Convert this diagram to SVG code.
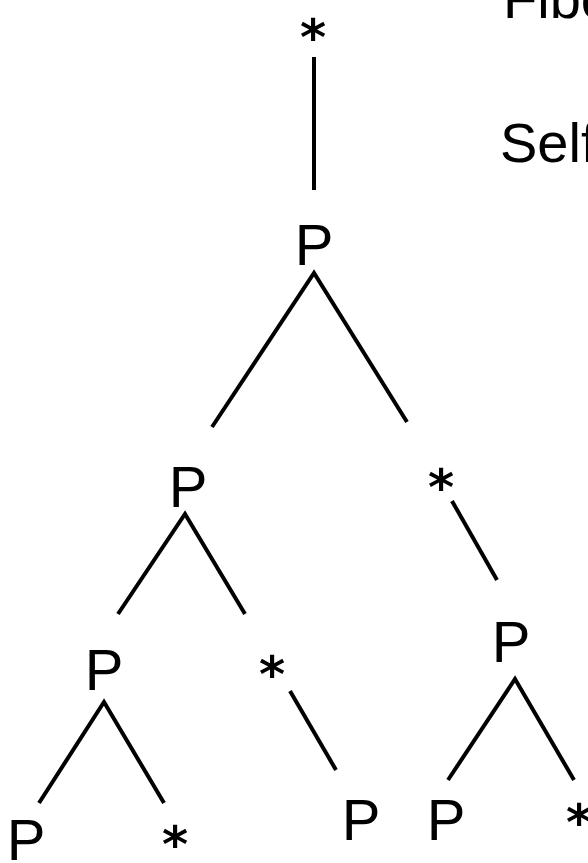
<svg xmlns="http://www.w3.org/2000/svg" width="588" height="863" viewBox="0 0 588 863">
  <style>
    .lbl { font-family: "Liberation Sans", Arial, sans-serif; font-size: 58px; fill: #000; text-anchor: middle; }
    .star { font-family: "DejaVu Sans", sans-serif; font-size: 50px; font-weight: bold; fill: #000; text-anchor: middle; }
    .side { font-family: "Liberation Sans", Arial, sans-serif; font-size: 56px; fill: #000; }
    .edge { fill: none; stroke: #000; stroke-width: 4; stroke-linejoin: miter; stroke-miterlimit: 10; }
  </style>
  <rect width="588" height="863" fill="#fff"/>

  <!-- side heading, running off the right edge -->
  <g id="heading">
    <text class="side" x="503" y="18">Fibo</text>
    <text class="side" x="500" y="162">Self</text>
  </g>

  <!-- tree edges -->
  <g id="connectors">
    <line class="edge" x1="314" y1="57" x2="314" y2="190"/>
    <polyline class="edge" points="212,427 314,273 407,422"/>
    <polyline class="edge" points="118,614 185,514 245,614"/>
    <line class="edge" x1="452" y1="501" x2="497" y2="580"/>
    <polyline class="edge" points="39,803 104,702 164,803"/>
    <line class="edge" x1="290" y1="691" x2="336" y2="770"/>
    <polyline class="edge" points="448,780 515,679 574,780"/>
  </g>

  <!-- nodes -->
  <g id="n-root"><text class="star" x="313" y="55">*</text></g>
  <g id="n-p1"><text class="lbl" x="314" y="265">P</text></g>
  <g id="n-p2"><text class="lbl" x="188" y="507">P</text></g>
  <g id="n-s2"><text class="star" x="441" y="505">*</text></g>
  <g id="n-p3"><text class="lbl" x="104" y="690">P</text></g>
  <g id="n-s3"><text class="star" x="272" y="692">*</text></g>
  <g id="n-p4"><text class="lbl" x="511" y="662">P</text></g>
  <g id="n-p5"><text class="lbl" x="26" y="860">P</text></g>
  <g id="n-s5"><text class="star" x="175" y="862">*</text></g>
  <g id="n-p6"><text class="lbl" x="361" y="840">P</text></g>
  <g id="n-p7"><text class="lbl" x="446" y="840">P</text></g>
  <g id="n-s7"><text class="star" x="579" y="840">*</text></g>
</svg>
